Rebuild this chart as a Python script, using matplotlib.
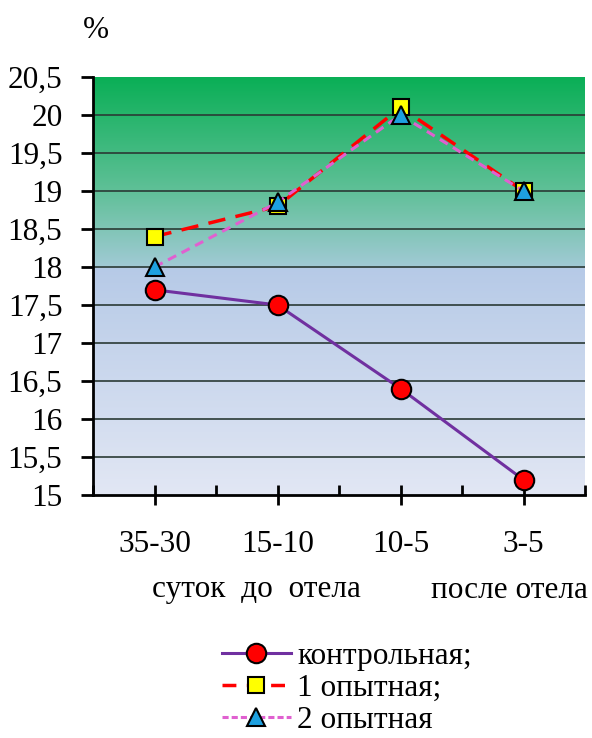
import numpy as np
import matplotlib
matplotlib.use("Agg")
import matplotlib.pyplot as plt
from matplotlib.lines import Line2D
from matplotlib.ticker import FixedLocator, NullFormatter

plt.rcParams['font.family'] = ['Liberation Serif', 'DejaVu Serif']

categories = ["35-30", "15-10", "10-5", "3-5"]
control = [17.7, 17.5, 16.4, 15.2]
exp1 = [18.4, 18.8, 20.1, 19.0]
exp2 = [18.0, 18.85, 20.0, 19.0]
series_names = ["контрольная;", "1 опытная;", "2 опытная"]
y_ticks = [15, 15.5, 16, 16.5, 17, 17.5, 18, 18.5, 19, 19.5, 20, 20.5]

W, H = 592, 738
fig = plt.figure(figsize=(W / 100, H / 100), dpi=100)
ax = fig.add_axes([93 / W, 1 - 495 / H, (585 - 93) / W, (495 - 77) / H])

x = np.arange(len(categories))
ax.set_xlim(-0.5, len(categories) - 0.5)
ax.set_ylim(15, 20.5)

# gradient background
yy = np.linspace(15, 20.5, 400)
stops_v = [15, 18.0, 18.02, 19.0, 20.5]
stops_c = np.array([(226, 231, 244), (182, 202, 231), (160, 202, 212), (96, 192, 152), (10, 175, 86)]) / 255.0
img = np.zeros((len(yy), 1, 3))
for k in range(3):
    img[:, 0, k] = np.interp(yy, stops_v, stops_c[:, k])
ax.imshow(img, extent=[-0.5, len(categories) - 0.5, 15, 20.5], origin='lower',
          aspect='auto', zorder=0, interpolation='bilinear')

for v in y_ticks[1:-1]:
    ax.axhline(v, color='#2a3a35', lw=1.2, zorder=1)

ax.plot(x, control, color='#7030a0', lw=2.2, marker='o', ms=14, mfc='#ff0000',
        mec='black', mew=1.5, zorder=3)
ax.plot(x, exp1, color='#ff0000', lw=2.5, ls=(0, (5, 3)), marker='s', ms=12,
        mfc='#ffff00', mec='black', mew=1.5, zorder=4)
ax.plot(x, exp2, color='#e060d0', lw=2.2, ls=(0, (3, 2)), marker='^', ms=13,
        mfc='#1ea0e0', mec='black', mew=1.5, zorder=5)

for s in ['top', 'right']:
    ax.spines[s].set_visible(False)
ax.spines['left'].set_linewidth(2)
ax.spines['bottom'].set_linewidth(2)

ax.set_yticks(y_ticks)
ax.set_yticklabels([f"{v:g}".replace('.', ',') for v in y_ticks], fontsize=22.5)
ax.tick_params(axis='y', direction='out', length=9, width=2, pad=13)

ax.xaxis.set_major_locator(FixedLocator(x))
ax.set_xticklabels(categories, fontsize=22.5)
ax.xaxis.set_minor_locator(FixedLocator(np.arange(len(categories) + 1) - 0.5))
ax.xaxis.set_minor_formatter(NullFormatter())
ax.tick_params(axis='x', which='major', direction='inout', length=14, width=2, pad=18)
ax.tick_params(axis='x', which='minor', direction='in', length=7, width=2)

fig.text(83 / W, 1 - 30 / H, "%", fontsize=22.5, ha='left', va='center')
fig.text(152 / W, 1 - 590 / H, "суток  до  отела", fontsize=22.5, ha='left', va='center')
fig.text(588 / W, 1 - 590 / H, "после отела", fontsize=22.5, ha='right', va='center')

handles = [
    Line2D([], [], color='#7030a0', lw=2.2, marker='o', ms=14, mfc='#ff0000', mec='black', mew=1.5),
    Line2D([], [], color='#ff0000', lw=2.5, ls=(0, (4, 3)), marker='s', ms=12, mfc='#ffff00', mec='black', mew=1.5),
    Line2D([], [], color='#e060d0', lw=2.2, ls=(0, (2, 1)), marker='^', ms=13, mfc='#1ea0e0', mec='black', mew=1.5),
]
fig.legend(handles, series_names, loc='upper left', bbox_to_anchor=(222 / W, 1 - 642 / H),
           frameon=False, fontsize=22.5, handlelength=2.2, handletextpad=0.2,
           labelspacing=0.1, borderpad=0, borderaxespad=0)

fig.savefig("out.png", dpi=100)
